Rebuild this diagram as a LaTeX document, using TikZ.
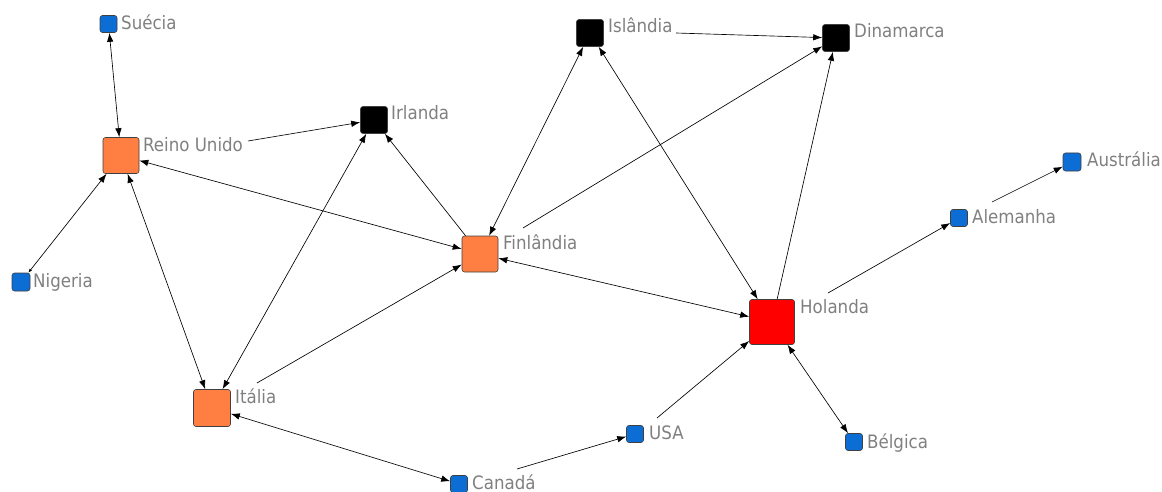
\documentclass[tikz,border=0pt]{standalone}
\usepackage{fontspec}
\setmainfont{DejaVu Sans Condensed}
\usetikzlibrary{arrows.meta}
\definecolor{nblue}{RGB}{12,110,212}
\definecolor{norange}{RGB}{255,127,66}
\definecolor{nred}{RGB}{255,0,0}
\definecolor{lblgray}{RGB}{128,128,128}
\begin{document}
\begin{tikzpicture}[x=1pt,y=-1pt,
  nd/.style={draw=black!75,line width=0.6pt,rounded corners=2.5pt,inner sep=0pt,minimum size=#1},
  lbl/.style={anchor=base west,inner sep=0pt,text=lblgray,font=\fontsize{18.5}{18.5}\selectfont},
  ed/.style={line width=0.65pt,black},
  tip/.style={-{Latex[length=9pt,width=6.5pt]}},
  both/.style={{Latex[length=9pt,width=6.5pt]}-{Latex[length=9pt,width=6.5pt]}}]
\useasboundingbox (0,0) rectangle (1162,492);
% nodes
\node[nd=17pt,fill=nblue] (sue) at (108.5,24) {};
\node[nd=36pt,fill=norange] (ru) at (121,155.5) {};
\node[nd=18pt,fill=nblue] (nig) at (21,282) {};
\node[nd=27pt,fill=black] (irl) at (374,120) {};
\node[nd=36pt,fill=norange] (fin) at (480,254) {};
\node[nd=27pt,fill=black] (isl) at (590,33) {};
\node[nd=27pt,fill=black] (din) at (836,38) {};
\node[nd=37pt,fill=norange] (ita) at (212,408) {};
\node[nd=17pt,fill=nblue] (can) at (459,484) {};
\node[nd=17pt,fill=nblue] (usa) at (635,434) {};
\node[nd=45pt,fill=nred] (hol) at (772,322) {};
\node[nd=17pt,fill=nblue] (bel) at (854,442) {};
\node[nd=17pt,fill=nblue] (ale) at (959,218) {};
\node[nd=18pt,fill=nblue] (aus) at (1072,162) {};
% labels
\node[lbl] (lsue) at (121,30) {Suécia};
\node[lbl] (lru) at (143,152) {Reino Unido};
\node[lbl] (lnig) at (33,287) {Nigeria};
\node[lbl] (lirl) at (391,120) {Irlanda};
\node[lbl] (lfin) at (503,249) {Finlândia};
\node[lbl] (lisl) at (608,33) {Islândia};
\node[lbl] (ldin) at (854,38) {Dinamarca};
\node[lbl] (lita) at (235,403) {Itália};
\node[lbl] (lcan) at (472,489) {Canadá};
\node[lbl] (lusa) at (649,439) {USA};
\node[lbl] (lhol) at (800,313) {Holanda};
\node[lbl] (lbel) at (867,448) {Bélgica};
\node[lbl] (lale) at (972,223) {Alemanha};
\node[lbl] (laus) at (1087,167) {Austrália};
% edge start points near labels
\coordinate (sRU) at (248,141);
\coordinate (sISL) at (676,33);
\coordinate (sFIN) at (523,228);
\coordinate (sITA) at (257,383);
\coordinate (sCAN) at (517,469);
\coordinate (sUSA) at (657,418);
\coordinate (sHOL) at (828,293);
\coordinate (sALE) at (992,202);
% edges
\draw[ed,both] (sue) -- (ru);
\draw[ed,{Latex[length=4pt,width=3pt]}-{Latex[length=9pt,width=6.5pt]}] (nig) -- (ru);
\draw[ed,tip] (sRU) -- (irl);
\draw[ed,both] (ru) -- (fin);
\draw[ed,both] (ru) -- (ita);
\draw[ed,both] (ita) -- (irl);
\draw[ed,tip] (sITA) -- (fin);
\draw[ed,both] (ita) -- (can);
\draw[ed,tip] (sCAN) -- (usa);
\draw[ed,tip] (sUSA) -- (hol);
\draw[ed,tip] (fin) -- (irl);
\draw[ed,both] (fin) -- (isl);
\draw[ed,tip] (sFIN) -- (din);
\draw[ed,tip] (sISL) -- (din);
\draw[ed,both] (isl) -- (hol);
\draw[ed,tip] (hol) -- (din);
\draw[ed,both] (fin) -- (hol);
\draw[ed,tip] (sHOL) -- (ale);
\draw[ed,tip] (sALE) -- (aus);
\draw[ed,both] (hol) -- (bel);
\end{tikzpicture}
\end{document}
